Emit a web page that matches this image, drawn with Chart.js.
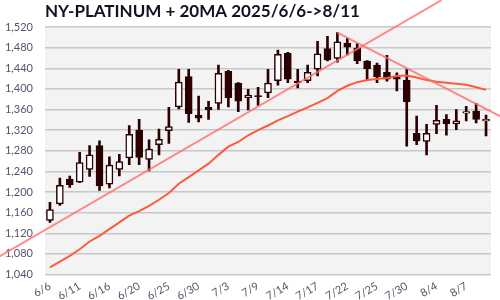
<!DOCTYPE html>
<html>
<head>
<meta charset="utf-8">
<script src="https://cdn.jsdelivr.net/npm/chart.js@4.4.1/dist/chart.umd.min.js"></script>
<style>
  html, body { margin: 0; padding: 0; background: #fff; }
</style>
</head>
<body>
<canvas id="chart" width="500" height="300"></canvas>
<script>
const titleText = 'NY-PLATINUM + 20MA 2025/6/6->8/11';

const dates = ['6/6','6/9','6/10','6/11','6/12','6/13','6/16','6/17','6/18','6/20',
  '6/23','6/24','6/25','6/26','6/27','6/30','7/1','7/2','7/3','7/7',
  '7/8','7/9','7/10','7/11','7/14','7/15','7/16','7/17','7/18','7/21',
  '7/22','7/23','7/24','7/25','7/28','7/29','7/30','7/31','8/1','8/4',
  '8/5','8/6','8/7','8/8','8/11'];

const openV  = [1145,1177,1225,1219,1244,1290,1215,1244,1266,1320,
  1263,1292,1319,1365,1424,1349,1364,1372,1434,1411,
  1383,1387,1392,1416,1469,1415,1416,1438,1478,1459,
  1489,1479,1454,1446,1432,1423,1417,1314,1298,1331,
  1341,1332,1353,1357,1338];
const highV  = [1180,1227,1231,1277,1290,1299,1268,1273,1329,1341,
  1301,1322,1364,1438,1438,1386,1376,1446,1436,1412,
  1399,1403,1438,1475,1471,1438,1446,1492,1502,1509,
  1498,1488,1455,1450,1465,1431,1438,1347,1331,1368,
  1350,1360,1366,1372,1349];
const lowV   = [1141,1174,1209,1218,1230,1203,1208,1231,1253,1253,
  1241,1272,1294,1361,1335,1336,1341,1360,1365,1356,
  1359,1368,1383,1407,1412,1402,1412,1425,1454,1452,
  1466,1449,1418,1412,1415,1396,1289,1292,1272,1313,
  1310,1321,1338,1334,1309];
const closeV = [1166,1213,1214,1257,1272,1212,1252,1259,1312,1267,
  1283,1302,1327,1413,1352,1343,1359,1430,1383,1376,
  1388,1385,1411,1467,1419,1412,1432,1468,1456,1491,
  1481,1454,1439,1423,1419,1419,1375,1299,1314,1339,
  1332,1338,1356,1341,1341];

const ma20 = [1054,1065,1076,1089,1104,1115,1128,1141,1154,1163,
  1173,1185,1198,1216,1229,1242,1255,1272,1288,1297,
  1310,1320,1329,1339,1347,1356,1364,1373,1382,1396,
  1406,1413,1417,1419,1421,1425,1426,1422,1417,1414,
  1412,1410,1408,1403,1398];

// trend lines: end points as (day index, price), they run past the plot edges
const trendUpX = [-5.1, 39.5];
const trendUpY = [1075, 1572];
const trendDownX = [29, 45.4];
const trendDownY = [1509, 1347];

// every 3rd trading day gets a label
const labelIdx = [0,3,6,9,12,15,18,21,24,27,30,33,36,39,42];

const dark = '#2b0000';
const tickColor = '#55556a';

const wicks = dates.map((d, i) => ({ x: i, y: [lowV[i], highV[i]] }));
const bodies = dates.map((d, i) => ({ x: i, y: [openV[i], closeV[i]] }));
const bodyFill = dates.map((d, i) => closeV[i] >= openV[i] ? '#ffffff' : dark);

const plotBg = {
  id: 'plotBg',
  beforeDraw(chart) {
    const { ctx, chartArea: a } = chart;
    ctx.save();
    ctx.fillStyle = '#f3f3f3';
    ctx.fillRect(a.left, a.top, a.right - a.left, a.bottom - a.top);
    ctx.restore();
  }
};

// title sits over the plot's left edge, not the canvas edge
const leftTitle = {
  id: 'leftTitle',
  afterDraw(chart) {
    const { ctx, chartArea: a } = chart;
    ctx.save();
    ctx.font = 'bold 17px Lato';
    ctx.fillStyle = '#111122';
    ctx.textBaseline = 'middle';
    ctx.fillText(titleText, a.left, 12);
    ctx.restore();
  }
};

new Chart(document.getElementById('chart'), {
  type: 'bar',
  data: {
    datasets: [
      {
        type: 'line',
        data: trendUpX.map((x, i) => ({ x: x, y: trendUpY[i] })),
        borderColor: 'rgba(255,110,110,0.8)',
        borderWidth: 2,
        pointRadius: 0,
        clip: false,
        order: 0
      },
      {
        type: 'line',
        data: trendDownX.map((x, i) => ({ x: x, y: trendDownY[i] })),
        borderColor: 'rgba(255,110,110,0.8)',
        borderWidth: 2,
        pointRadius: 0,
        clip: false,
        order: 0
      },
      {
        type: 'line',
        data: ma20.map((v, i) => ({ x: i, y: v })),
        borderColor: '#ff5a3c',
        borderWidth: 2,
        pointRadius: 0,
        order: 1
      },
      {
        data: bodies,
        backgroundColor: bodyFill,
        borderColor: dark,
        borderWidth: 1.5,
        borderSkipped: false,
        barThickness: 7,
        grouped: false,
        order: 2
      },
      {
        data: wicks,
        backgroundColor: dark,
        borderWidth: 0,
        barThickness: 2,
        grouped: false,
        order: 3
      }
    ]
  },
  options: {
    responsive: false,
    devicePixelRatio: 1,
    animation: false,
    layout: { padding: { left: 0, right: 9, top: 27, bottom: 0 } },
    plugins: {
      legend: { display: false },
      tooltip: { enabled: false },
      title: { display: false }
    },
    scales: {
      x: {
        type: 'linear',
        min: -0.5,
        max: 44.5,
        offset: false,
        grid: { display: false, drawTicks: false },
        border: { display: false },
        afterBuildTicks: axis => { axis.ticks = labelIdx.map(v => ({ value: v })); },
        afterFit: axis => {
          axis.height = 25.5;
          axis.paddingLeft = 0;
          axis.paddingRight = 0;
        },
        ticks: {
          autoSkip: false,
          minRotation: 30,
          maxRotation: 30,
          padding: 5,
          color: tickColor,
          font: { family: 'Lato', size: 11 },
          callback: v => dates[v]
        }
      },
      y: {
        min: 1040,
        max: 1520,
        border: { display: false },
        grid: { color: '#c8c8c8', lineWidth: 1.5, drawTicks: false },
        afterFit: axis => { axis.width = 45; },
        ticks: {
          stepSize: 20,
          padding: 12,
          color: tickColor,
          font: { family: 'Lato', size: 11 },
          callback: v => v % 40 === 0 ? v.toLocaleString('en-US') : ''
        }
      }
    }
  },
  plugins: [plotBg, leftTitle]
});
</script>
</body>
</html>
